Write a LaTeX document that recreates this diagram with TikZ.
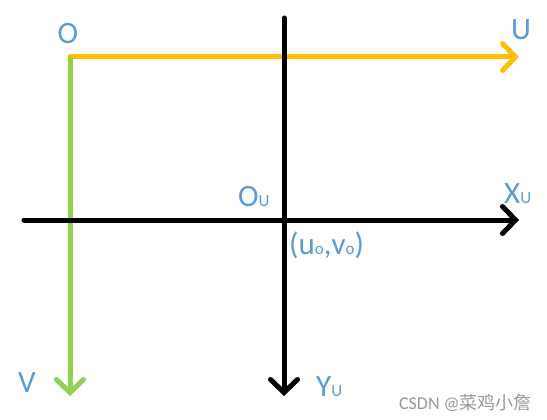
\documentclass[tikz,border=0pt]{standalone}
\usepackage{fontspec}
\setmainfont{Carlito}
\newfontfamily\cjk{Noto Sans CJK SC}
\usepackage{tikz}
\usetikzlibrary{arrows.meta, positioning}
\definecolor{axisyellow}{HTML}{FFC000}
\definecolor{axisgreen}{HTML}{92D050}
\definecolor{labelblue}{HTML}{5B9BD5}
\tikzset{
  axis/.style={line width=5pt, line cap=round,
    -{Straight Barb[length=13pt, width=27pt, line width=5pt, line cap=round]}},
  lab/.style={text=labelblue, font=\fontsize{31}{31}\selectfont, inner sep=0pt},
}
\newcommand{\sm}[1]{{\fontsize{17}{17}\selectfont #1}}

\begin{document}
\begin{tikzpicture}[x=1pt, y=-1pt]
                \useasboundingbox (0,0) rectangle (547,420);

                % axes of the image frame
                \coordinate (O)  at (70,57);
                \coordinate (U)  at (519,57);
                \coordinate (V)  at (70,396);
                % axes of the centred frame
                \coordinate (XL) at (24,220);
                \coordinate (XR) at (519,220);
                \coordinate (YT) at (284,18);
                \coordinate (YB) at (284,396);

                \draw[axis, axisyellow] (O) -- (U);
                \draw[axis, axisgreen, line cap=butt] (O) -- (V);
                \draw[axis, black] (XL) -- (XR);
                \draw[axis, black] (YT) -- (YB);

                \node[lab] (lo)  at (68,34)  {O};
                \node[lab] (lu)  at (521,30) {U};
                \node[lab] (lv)  at (27,383) {V};
                \node[lab, anchor=base west] (lou) at (238,207) {O\sm{U}};
                \node[lab, anchor=base west] (lxu) at (504,203) {X\sm{U}};
                \node[lab, anchor=base west] (lyu) at (316,396) {Y\sm{U}};
                \node[lab, anchor=base west] (lc)  at (289,254) {(u\sm{o},v\sm{o})};

                \node[text=gray!80, font=\fontsize{18}{18}\selectfont, anchor=base east, inner sep=0pt] (wm) at (532,409) {CSDN @{\cjk 菜鸡小詹}};
            \end{tikzpicture}
\end{document}
